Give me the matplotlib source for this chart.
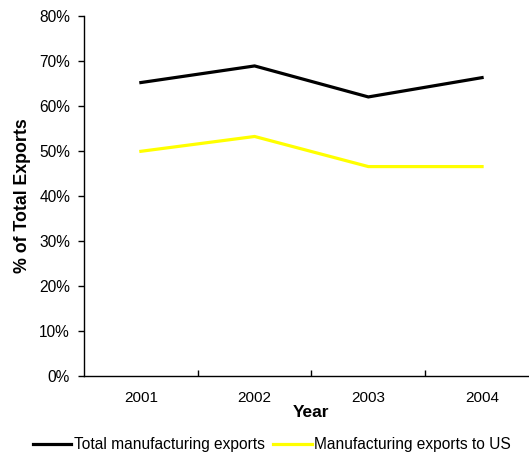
import matplotlib
matplotlib.use("Agg")
import matplotlib.pyplot as plt
from matplotlib.ticker import FuncFormatter, FixedLocator

plt.rcParams['font.family'] = ['Liberation Sans', 'DejaVu Sans']

years = ["2001", "2002", "2003", "2004"]
total_mfg = [65.2, 68.9, 62.0, 66.3]
mfg_to_us = [49.9, 53.2, 46.5, 46.5]
series_names = ["Total manufacturing exports", "Manufacturing exports to US"]

fig = plt.figure(figsize=(5.29, 4.55), dpi=100)
ax = fig.add_axes([0.1588, 0.1747, 0.860, 0.790])

x = list(range(len(years)))
ax.plot(x, total_mfg, color="black", lw=2.3, label=series_names[0], solid_joinstyle="miter")
ax.plot(x, mfg_to_us, color="#ffff00", lw=2.3, label=series_names[1], solid_joinstyle="miter")

ax.set_xlim(-0.5, len(years) - 0.5)
ax.set_ylim(0, 80)
ax.set_yticks(range(0, 81, 10))
ax.yaxis.set_major_formatter(FuncFormatter(lambda v, p: f"{int(v)}%"))
ax.set_xticks(x)
ax.set_xticklabels(years)
ax.xaxis.set_minor_locator(FixedLocator([i + 0.5 for i in range(len(years) - 1)]))

ax.tick_params(axis="x", which="major", length=0, labelsize=11, pad=11.5)
ax.tick_params(axis="x", which="minor", direction="in", length=4, width=1)
ax.tick_params(axis="y", direction="out", length=4, width=1, labelsize=11.2, pad=6)

for s in ("top", "right"):
    ax.spines[s].set_visible(False)
for s in ("left", "bottom"):
    ax.spines[s].set_linewidth(1)

ax.set_ylabel("% of Total Exports", fontsize=12.8, fontweight="bold")
ax.yaxis.set_label_coords(-0.117, 0.5)
ax.set_xlabel("Year", fontsize=12.5, fontweight="bold", labelpad=-0.5)

fig.legend(loc="center", bbox_to_anchor=(0.514, 1 - 445 / 455), ncol=2, frameon=False,
           fontsize=11.2, handlelength=2.5, handletextpad=0.15, columnspacing=0.55,
           borderaxespad=0)

fig.savefig("out.png", dpi=100)
